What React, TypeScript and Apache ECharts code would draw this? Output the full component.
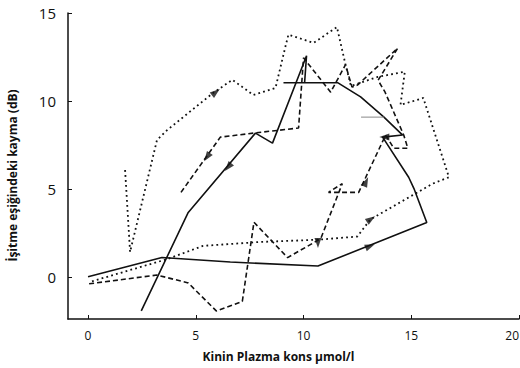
import React, { useEffect, useRef } from "react";
import * as echarts from "echarts";

const xTicks = [0, 5, 10, 15, 20];
const yTicks = [0, 5, 10, 15];

const solidA: [number, number][] = [
  [2.47, -1.94], [4.65, 3.66], [7.77, 8.17], [8.56, 7.6], [10.14, 12.57], [10.05, 11.03],
];
const solidB: [number, number][] = [
  [9.07, 11.03], [11.6, 11.03], [12.65, 10.23], [13.72, 9.09], [14.6, 8.06], [13.67, 7.94],
  [14.88, 5.66], [15.12, 5.03], [15.72, 3.09], [10.67, 0.61], [6.6, 0.84], [3.43, 1.1], [0, 0],
];
const dashed: [number, number][] = [
  [0.05, -0.4], [3.2, 0.1], [4.65, -0.35], [5.95, -1.94], [7.16, -1.4], [7.7, 3.1],
  [9.26, 1.09], [10.8, 2.17], [11.8, 5.3], [11.16, 4.8], [12.56, 4.8], [13.81, 8.06],
  [14.19, 7.31], [14.84, 7.31], [14.65, 8.06], [13.78, 10.51], [13.46, 11.17], [14.37, 13.0],
  [12.5, 10.9], [12.25, 10.79], [11.95, 12.06], [11.26, 10.5], [10.0, 12.45], [9.77, 8.46],
  [7.67, 8.17], [6.14, 7.94], [4.28, 4.74],
];
const dotted: [number, number][] = [
  [1.72, 6.07], [1.95, 1.41], [3.2, 7.78], [3.67, 8.34], [5.81, 10.46], [6.7, 11.2],
  [7.67, 10.34], [8.7, 10.74], [9.16, 13.09], [9.3, 13.77], [10.47, 13.3], [11.55, 14.2],
  [11.95, 12.06], [12.2, 10.85], [13.45, 11.37], [14.7, 11.66], [14.5, 9.77], [15.56, 10.17],
  [16.75, 5.66], [16.0, 5.3], [13.1, 3.26], [12.5, 2.29], [10.7, 2.11], [7.98, 1.98],
  [5.34, 1.76], [3.66, 1.0], [0.09, -0.29],
];
const greyBar: [number, number][] = [[12.67, 9.08], [13.74, 9.08]];

// arrowheads: [x, y, direction in degrees (0 = right, counter-clockwise)]
const arrows: [number, number, number][] = [
  [6.5, 6.24, 230],
  [13.09, 1.75, 22],
  [13.75, 7.95, 180],
  [5.52, 6.81, 235],
  [10.67, 1.92, 270],
  [12.9, 5.4, 65],
  [5.93, 10.5, 38],
  [13.13, 3.28, 34],
];

const ink = "#111";
const font = "Open Sans";

export default function App() {
  const ref = useRef<HTMLDivElement>(null);
  useEffect(() => {
    if (!ref.current) return;
    const chart = echarts.init(ref.current, undefined, { renderer: "svg" });
    const lineSeries = (data: [number, number][], type: any, width: number, color = ink) => ({
      type: "line",
      data,
      symbol: "none",
      lineStyle: { color, width, type },
      silent: true,
      z: 2,
    });
    chart.setOption({
      animation: false,
      backgroundColor: "#fff",
      grid: { left: 68, right: 1, top: 13, bottom: 49, containLabel: false, outerBoundsMode: "none" },
      xAxis: {
        type: "value",
        min: -0.93,
        max: 20,
        name: "Kinin Plazma kons μmol/l",
        nameLocation: "middle",
        nameGap: 31,
        nameTextStyle: { fontFamily: font, fontWeight: "bold", fontSize: 12, color: ink, padding: [0, 30, 0, 0] },
        axisLine: { onZero: false, lineStyle: { color: ink, width: 1.5 } },
        axisTick: { inside: true, length: 4, customValues: xTicks, lineStyle: { color: ink } },
        axisLabel: {
          customValues: xTicks,
          fontFamily: font,
          fontSize: 12,
          color: ink,
          margin: 10,
          hideOverlap: false,
          alignMaxLabel: "right",
        },
        splitLine: { show: false },
      },
      yAxis: {
        type: "value",
        min: -2.4,
        max: 15,
        name: "İşitme eşiğindeki kayma (dB)",
        nameLocation: "middle",
        nameGap: 50,
        nameTextStyle: { fontFamily: font, fontWeight: "bold", fontSize: 12, color: ink, padding: [0, 19, 0, 0] },
        axisLine: { onZero: false, lineStyle: { color: ink, width: 1.5 } },
        axisTick: { inside: true, length: 4, customValues: yTicks, lineStyle: { color: ink } },
        axisLabel: { customValues: yTicks, fontFamily: font, fontSize: 15, color: ink, margin: 12 },
        splitLine: { show: false },
      },
      series: [
        lineSeries(solidA, "solid", 1.6),
        lineSeries(solidB, "solid", 1.6),
        lineSeries(dashed, [5, 3], 1.6),
        lineSeries(dotted, [1.8, 3.2], 1.8),
        lineSeries(greyBar, "solid", 1, "#888"),
        {
          type: "scatter",
          symbol: "triangle",
          symbolSize: [7, 10],
          itemStyle: { color: ink },
          silent: true,
          z: 3,
          data: arrows.map(([x, y, d]) => ({ value: [x, y], symbolRotate: d - 90 })),
        },
      ],
    });
    return () => chart.dispose();
  }, []);
  return <div ref={ref} style={{ width: 520, height: 368, position: "absolute", left: 0, top: 0 }} />;
}
